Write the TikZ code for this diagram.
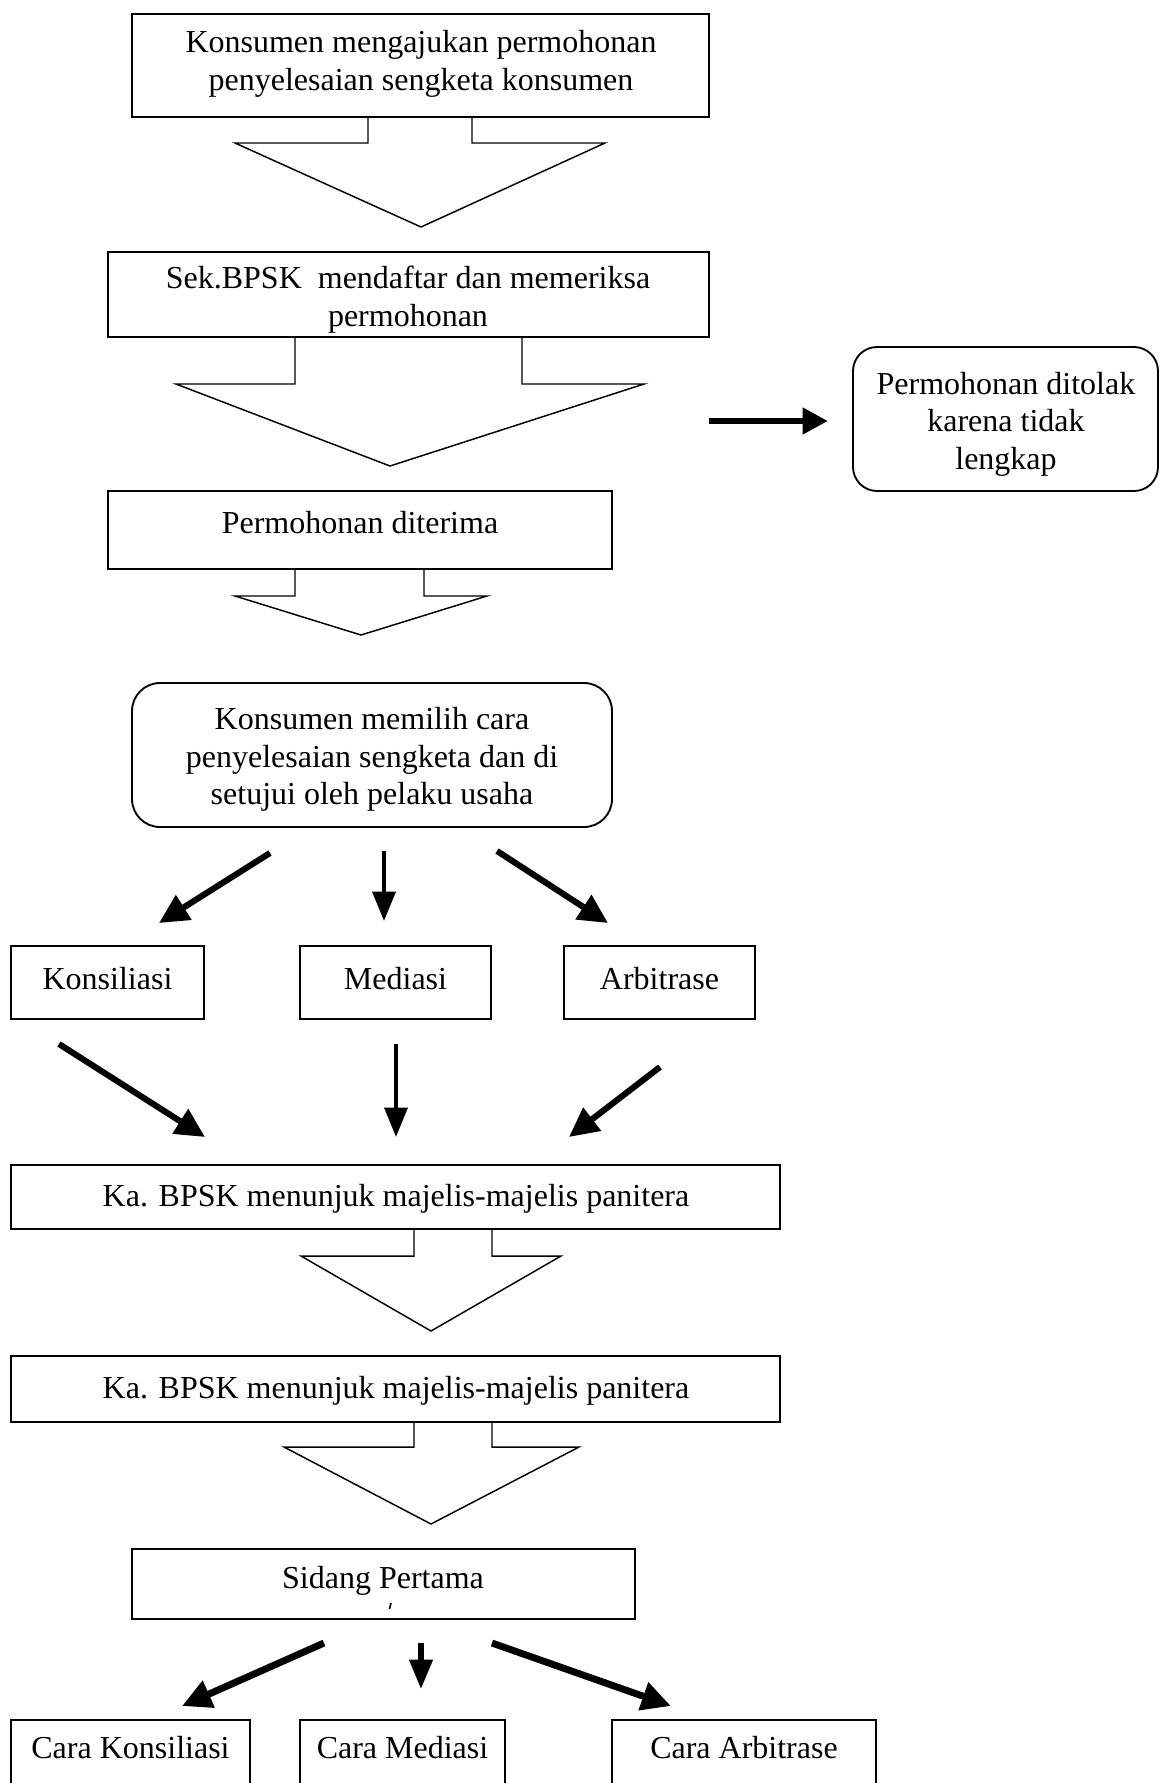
\documentclass[tikz,border=0pt]{standalone}
\usepackage{fontspec}
\setmainfont{Liberation Serif}
\usetikzlibrary{arrows.meta,fit}
\begin{document}
\begin{tikzpicture}[x=0.375pt,y=-0.375pt,
 box/.style={draw, line width=0.7pt, inner sep=0pt},
 rbox/.style={box, rounded corners=9pt},
 txt/.style={align=center, inner sep=0pt, font=\fontsize{12}{14.06}\selectfont},
 blk/.style={draw, line width=0.55pt, line join=miter},
 fat/.style={line width=2.3pt, -{Triangle[length=11pt,width=10.5pt]}},
 slim/.style={line width=1.7pt, -{Triangle[length=11pt,width=8.5pt]}},
]
\useasboundingbox (0,0) rectangle (1160,1783);
\clip (0,0) rectangle (1160,1783);

% boxes
\node[box, fit={(132,14) (709,117)}] (b1) {};
\node[txt] (t1) at (421,64) {Konsumen mengajukan permohonan\\penyelesaian sengketa konsumen};
\node[box, fit={(108,252) (709,337)}] (b2) {};
\node[txt] (t2) at (408,299.5) {Sek.BPSK\ \ mendaftar dan memeriksa\\permohonan};
\node[box, fit={(108,491) (612,569)}] (b3) {};
\node[txt] (t3) at (360,523) {Permohonan diterima};
\node[rbox, fit={(853,347) (1158,491)}] (rej) {};
\node[txt] (t4) at (1006,424) {Permohonan ditolak\\karena tidak\\lengkap};
\node[rbox, rounded corners=10.5pt, fit={(132,683) (612,827)}] (mem) {};
\node[txt] (t5) at (372,759.5) {Konsumen memilih cara\\penyelesaian sengketa dan di\\setujui oleh pelaku usaha};

\node[box, fit={(11,946) (204,1019)}] (kon) {};
\node[txt] at (kon.center |- 0,979) {Konsiliasi};
\node[box, fit={(300,946) (491,1019)}] (med) {};
\node[txt] at (med.center |- 0,979) {Mediasi};
\node[box, fit={(564,946) (755,1019)}] (arb) {};
\node[txt] at (arb.center |- 0,979) {Arbitrase};

\node[box, fit={(11,1165) (780,1229)}] (ka1) {};
\node[txt] at (396,1198.5) {Ka. BPSK menunjuk majelis-majelis panitera};
\node[box, fit={(11,1356) (780,1422)}] (ka2) {};
\node[txt] at (396,1390.5) {Ka. BPSK menunjuk majelis-majelis panitera};
\node[box, fit={(132,1549) (635,1619)}] (sid) {};
\node[txt] at (383,1581) {Sidang Pertama};
\draw[line width=0.6pt] (391,1603) -- (389.5,1609);

\node[box, fit={(11,1720) (250,1820)}] (ck) {};
\node[txt] at (130.5,1747.5) {Cara Konsiliasi};
\node[box, fit={(300,1720) (505,1820)}] (cm) {};
\node[txt] at (402.5,1747.5) {Cara Mediasi};
\node[box, fit={(612,1720) (876,1820)}] (ca) {};
\node[txt] at (744,1747.5) {Cara Arbitrase};

% block arrows
\draw[blk] (368,117) -- (368,143) -- (235,143) -- (421,227) -- (605,143) -- (472,143) -- (472,117);
\draw[blk] (295,337) -- (295,384) -- (176,384) -- (390,466) -- (644,384) -- (522,384) -- (522,337);
\draw[blk] (295,569) -- (295,596) -- (235,596) -- (361,635) -- (487,596) -- (424,596) -- (424,569);
\draw[blk] (414,1229) -- (414,1256) -- (301,1256) -- (431,1331) -- (561,1256) -- (492,1256) -- (492,1229);
\draw[blk] (414,1422) -- (414,1447) -- (284,1447) -- (431,1524) -- (579,1447) -- (492,1447) -- (492,1422);

% side arrow
\coordinate (s0) at (709,421);
\coordinate (s1) at (828,421);
\draw[line width=2.6pt, -{Triangle[length=9.5pt,width=9.5pt]}] (s0) -- (s1);

% fan 1
\coordinate (f1a) at (270,853); \coordinate (f1b) at (159,923);
\coordinate (f2a) at (384,851); \coordinate (f2b) at (384,921);
\coordinate (f3a) at (497,851); \coordinate (f3b) at (608,923);
\draw[fat] (f1a) -- (f1b);
\draw[slim] (f2a) -- (f2b);
\draw[fat] (f3a) -- (f3b);

% fan 2
\coordinate (g1a) at (59,1044); \coordinate (g1b) at (205,1137);
\coordinate (g2a) at (396,1044); \coordinate (g2b) at (396,1137);
\coordinate (g3a) at (660,1067); \coordinate (g3b) at (569,1137);
\draw[fat] (g1a) -- (g1b);
\draw[slim] (g2a) -- (g2b);
\draw[fat] (g3a) -- (g3b);

% fan 3
\coordinate (h1a) at (324,1643); \coordinate (h1b) at (182,1706);
\coordinate (h2a) at (421,1643); \coordinate (h2b) at (421,1689);
\coordinate (h3a) at (492,1643); \coordinate (h3b) at (671,1706);
\draw[fat, line width=2.6pt] (h1a) -- (h1b);
\draw[slim, line width=2pt] (h2a) -- (h2b);
\draw[fat, line width=2.6pt] (h3a) -- (h3b);
\end{tikzpicture}
\end{document}
